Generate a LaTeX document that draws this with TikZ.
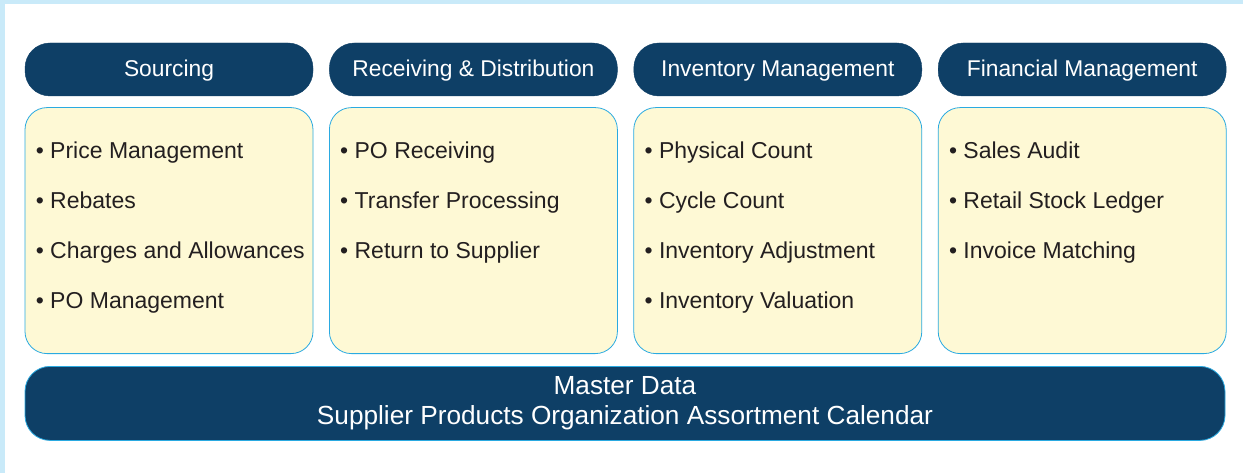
\documentclass[tikz,border=0pt]{standalone}
\usepackage{fontspec}
\setmainfont{Liberation Sans}
\usetikzlibrary{positioning}
\definecolor{navy}{HTML}{0E3F66}
\definecolor{cream}{HTML}{FEF9D5}
\definecolor{sky}{HTML}{2AAAE1}
\definecolor{pale}{HTML}{C9EAF9}
\definecolor{ink}{HTML}{231F20}
\tikzstyle{head} = [rectangle, rounded corners=25pt, fill=navy, draw=navy, text=white, minimum width=288pt, minimum height=53pt, inner sep=0pt, text height=17.5pt, text depth=3.5pt, font=\fontsize{22.8}{27}\selectfont]
\tikzstyle{body} = [rectangle, rounded corners=22pt, fill=cream, draw=sky, line width=0.8pt, minimum width=288pt, minimum height=246pt]
\tikzstyle{item} = [anchor=base west, inner sep=0pt, text=ink, font=\fontsize{23}{27}\selectfont]

\begin{document}
\begin{tikzpicture}[x=1pt, y=1pt, node distance=16pt]
        % frame
        \fill[white] (0,0) rectangle (1243,-473);
        \fill[pale] (0,0) rectangle (1243,-4);
        \fill[pale] (0,0) rectangle (5,-473);
        \useasboundingbox (0,0) rectangle (1243,-473);

        % column headers
        \node (src) [head] at (169,-69.5) {Sourcing};
        \node (rcv) [head, right=of src] {Receiving \& Distribution};
        \node (inv) [head, right=of rcv] {Inventory Management};
        \node (fin) [head, right=of inv] {Financial Management};

        % column bodies
        \node (srcb) [body, below=11pt of src] {};
        \node (rcvb) [body, below=11pt of rcv] {};
        \node (invb) [body, below=11pt of inv] {};
        \node (finb) [body, below=11pt of fin] {};

        % items
        \foreach \t [count=\i] in {Price Management, Rebates, Charges and Allowances, PO Management}
            \node (src-\i) [item] at ([xshift=11pt, yshift={-51pt-50pt*(\i-1)}]srcb.north west) {• \t};
        \foreach \t [count=\i] in {PO Receiving, Transfer Processing, Return to Supplier}
            \node (rcv-\i) [item] at ([xshift=11pt, yshift={-51pt-50pt*(\i-1)}]rcvb.north west) {• \t};
        \foreach \t [count=\i] in {Physical Count, Cycle Count, Inventory Adjustment, Inventory Valuation}
            \node (inv-\i) [item] at ([xshift=11pt, yshift={-51pt-50pt*(\i-1)}]invb.north west) {• \t};
        \foreach \t [count=\i] in {Sales Audit, Retail Stock Ledger, Invoice Matching}
            \node (fin-\i) [item] at ([xshift=11pt, yshift={-51pt-50pt*(\i-1)}]finb.north west) {• \t};

        % master data bar
        \node (master) [rectangle, anchor=north west, rounded corners=25pt, fill=navy, draw=sky, line width=0.8pt, minimum width=1200pt, minimum height=74pt, text=white, align=center, font=\fontsize{26.2}{29.5}\selectfont] at ([yshift=-12pt]srcb.south west) {Master Data\\Supplier Products Organization Assortment Calendar};
\end{tikzpicture}
\end{document}
